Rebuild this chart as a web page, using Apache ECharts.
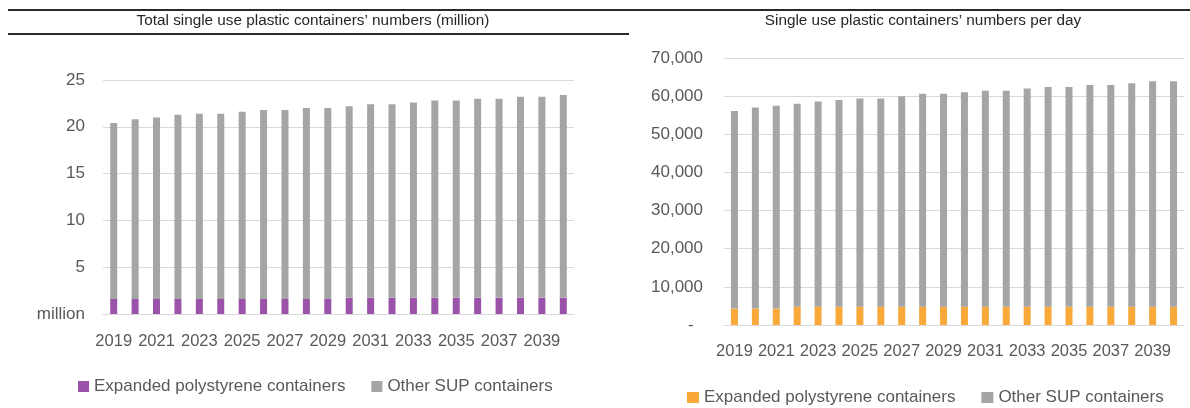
<!DOCTYPE html>
<html>
<head>
<meta charset="utf-8">
<script src="https://cdn.jsdelivr.net/npm/echarts@6/dist/echarts.min.js"></script>
<style>
  html, body { margin: 0; padding: 0; background: #fff; }
  #chart { width: 1190px; height: 408px; }
</style>
</head>
<body>
<div id="chart"></div>
<script>
// years shown on both panels
var years = ['2019', '2020', '2021', '2022', '2023', '2024', '2025', '2026', '2027', '2028', '2029',
  '2030', '2031', '2032', '2033', '2034', '2035', '2036', '2037', '2038', '2039', '2040']

// left panel, million containers
var epsMillion = [1.6, 1.6, 1.6, 1.6, 1.6, 1.6, 1.6, 1.6, 1.6, 1.6, 1.6,
  1.75, 1.75, 1.75, 1.75, 1.75, 1.75, 1.75, 1.75, 1.75, 1.75, 1.75]
var otherMillion = [18.8, 19.2, 19.4, 19.7, 19.8, 19.8, 20.0, 20.2, 20.2, 20.4, 20.4,
  20.45, 20.65, 20.65, 20.85, 21.05, 21.05, 21.25, 21.25, 21.45, 21.45, 21.65]

// right panel, containers per day
var epsPerDay = [4300, 4300, 4300, 4800, 4800, 4800, 4800, 4800, 4800, 4800, 4800,
  4800, 4800, 4800, 4800, 4800, 4800, 4800, 4800, 4800, 4800, 4800]
var otherPerDay = [51800, 52700, 53200, 53200, 53800, 54200, 54600, 54600, 55200, 55800, 55800,
  56200, 56600, 56600, 57200, 57600, 57600, 58100, 58100, 58600, 59100, 59100]

var leftTicks = { min: 0, max: 25, interval: 5 }
var rightTicks = { min: 0, max: 70000, interval: 10000 }

var seriesNames = ['Expanded polystyrene containers', 'Other SUP containers']

var FONT = "'Liberation Sans', Arial, sans-serif"
var LABEL = '#595959'
var GRIDLINE = '#d9d9d9'
var PURPLE = '#9a53a8'
var ORANGE = '#f9a83a'
var GREY = '#a5a5a5'

function initChart() {
  var chart = echarts.init(document.getElementById('chart'))

  var xAxisBase = {
    type: 'category',
    data: years,
    axisTick: { show: false },
    axisLine: { lineStyle: { color: GRIDLINE } },
    axisLabel: { interval: 1, color: LABEL, fontSize: 16.5, fontFamily: FONT, margin: 19 }
  }

  chart.setOption({
    animation: false,
    textStyle: { fontFamily: FONT },
    grid: [
      { left: 103, top: 80, width: 471, height: 234 },
      { left: 724, top: 58, width: 460, height: 267 }
    ],
    xAxis: [
      Object.assign({ gridIndex: 0 }, xAxisBase),
      Object.assign({ gridIndex: 1 }, xAxisBase, {
        axisLabel: { interval: 1, color: LABEL, fontSize: 16.5, fontFamily: FONT, margin: 18 }
      })
    ],
    yAxis: [
      {
        gridIndex: 0,
        type: 'value',
        min: leftTicks.min,
        max: leftTicks.max,
        interval: leftTicks.interval,
        axisLine: { show: false },
        axisTick: { show: false },
        splitLine: { lineStyle: { color: GRIDLINE } },
        axisLabel: {
          color: LABEL, fontSize: 17, fontFamily: FONT, margin: 18,
          formatter: function (v) { return v === 0 ? 'million' : String(v) }
        }
      },
      {
        gridIndex: 1,
        type: 'value',
        min: rightTicks.min,
        max: rightTicks.max,
        interval: rightTicks.interval,
        axisLine: { show: false },
        axisTick: { show: false },
        splitLine: { lineStyle: { color: GRIDLINE } },
        axisLabel: {
          color: LABEL, fontSize: 17, fontFamily: FONT, margin: 21,
          formatter: function (v) {
            return v === 0 ? '-  ' : v.toLocaleString('en-US')
          }
        }
      }
    ],
    legend: [
      {
        left: 78, top: 378, padding: 0,
        itemWidth: 11, itemHeight: 11, itemGap: 26,
        selectedMode: false,
        textStyle: { color: LABEL, fontSize: 17, fontFamily: FONT },
        data: [
          { name: seriesNames[0], icon: 'rect', itemStyle: { color: PURPLE } },
          { name: seriesNames[1], icon: 'rect', itemStyle: { color: GREY } }
        ]
      },
      {
        left: 687, top: 389, padding: 0,
        itemWidth: 12, itemHeight: 11, itemGap: 26,
        selectedMode: false,
        textStyle: { color: LABEL, fontSize: 17, fontFamily: FONT },
        data: [
          { name: seriesNames[0], icon: 'rect', itemStyle: { color: ORANGE } },
          { name: seriesNames[1], icon: 'rect', itemStyle: { color: GREY } }
        ]
      }
    ],
    graphic: [
      // rules round the left title
      { type: 'line', shape: { x1: 8, y1: 10, x2: 1190, y2: 10 }, style: { stroke: '#2b2b2b', lineWidth: 2 } },
      { type: 'line', shape: { x1: 8, y1: 34, x2: 629, y2: 34 }, style: { stroke: '#2b2b2b', lineWidth: 2 } },
      {
        type: 'text', x: 313, y: 21,
        style: {
          text: 'Total single use plastic containers\u2019 numbers (million)',
          fill: '#262626', font: '15.3px ' + FONT, textAlign: 'center', textVerticalAlign: 'middle'
        }
      },
      {
        type: 'text', x: 923, y: 21,
        style: {
          text: 'Single use plastic containers\u2019 numbers per day',
          fill: '#262626', font: '15.3px ' + FONT, textAlign: 'center', textVerticalAlign: 'middle'
        }
      }
    ],
    series: [
      {
        name: seriesNames[0], type: 'bar', stack: 'left',
        xAxisIndex: 0, yAxisIndex: 0, barWidth: 7,
        itemStyle: { color: PURPLE },
        data: epsMillion
      },
      {
        name: seriesNames[1], type: 'bar', stack: 'left',
        xAxisIndex: 0, yAxisIndex: 0, barWidth: 7,
        itemStyle: { color: GREY },
        data: otherMillion
      },
      {
        name: seriesNames[0], type: 'bar', stack: 'right',
        xAxisIndex: 1, yAxisIndex: 1, barWidth: 7,
        itemStyle: { color: ORANGE },
        data: epsPerDay
      },
      {
        name: seriesNames[1], type: 'bar', stack: 'right',
        xAxisIndex: 1, yAxisIndex: 1, barWidth: 7,
        itemStyle: { color: GREY },
        data: otherPerDay
      }
    ]
  })
}

initChart()
</script>
</body>
</html>
